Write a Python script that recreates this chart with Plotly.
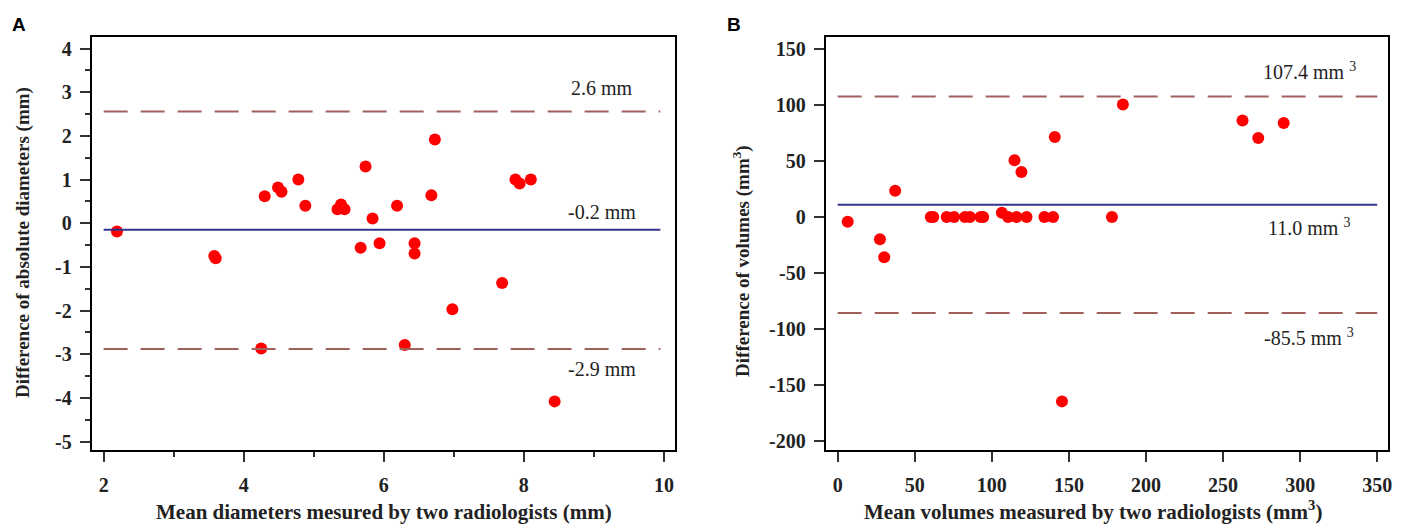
import plotly.graph_objects as go

# panel A: mean diameter vs difference (mm)
diam_mean = [2.19, 3.58, 3.60, 4.25, 4.30, 4.49, 4.54, 4.78, 4.88, 5.34, 5.39, 5.44,
             5.67, 5.74, 5.84, 5.94, 6.19, 6.30, 6.44, 6.44, 6.68, 6.73, 6.98, 7.69,
             7.88, 7.94, 8.10, 8.44]
diam_diff = [-0.19, -0.75, -0.80, -2.87, 0.62, 0.82, 0.72, 1.00, 0.40, 0.32, 0.43, 0.32,
             -0.56, 1.30, 0.11, -0.46, 0.40, -2.79, -0.46, -0.69, 0.64, 1.92, -1.97, -1.37,
             1.00, 0.91, 1.00, -4.08]
diam_lines = [2.56, -0.15, -2.88]
diam_labels = ["2.6 mm", "-0.2 mm", "-2.9 mm"]
diam_xticks = [2, 4, 6, 8, 10]
diam_yticks = [4, 3, 2, 1, 0, -1, -2, -3, -4, -5]

# panel B: mean volume vs difference (mm3)
vol_mean = [6.5, 27.4, 30.2, 37.3, 60.4, 62.0, 70.7, 75.5, 82.6, 85.8, 92.7, 94.4,
            106.5, 110.5, 114.7, 116.0, 119.2, 122.5, 134.1, 139.7, 140.8, 145.5,
            177.9, 185.0, 262.6, 272.8, 289.3]
vol_diff = [-4.2, -19.8, -35.8, 23.4, 0, 0, 0, 0, 0, 0, 0, 0,
            3.8, 0, 50.6, 0, 40.2, 0, 0, 0, 71.3, -164.4,
            0, 100.3, 86.0, 70.4, 83.7]
vol_lines = [107.4, 11.0, -85.5]
vol_labels = ["107.4 mm <sup>3</sup>", "11.0 mm <sup>3</sup>", "-85.5 mm <sup>3</sup>"]
vol_xticks = [0, 50, 100, 150, 200, 250, 300, 350]
vol_yticks = [150, 100, 50, 0, -50, -100, -150, -200]

RED = "#ff0000"
NAVY = "#34348f"
BROWN = "#a0605c"
SERIF = "Liberation Serif, Times New Roman, serif"
TXT = "#222"

fig = go.Figure()

fig.add_trace(go.Scatter(x=diam_mean, y=diam_diff, mode="markers",
                         marker=dict(color=RED, size=12), xaxis="x", yaxis="y",
                         showlegend=False))
fig.add_trace(go.Scatter(x=vol_mean, y=vol_diff, mode="markers",
                         marker=dict(color=RED, size=12), xaxis="x2", yaxis="y2",
                         showlegend=False))

# limit and mean lines
for i, v in enumerate(diam_lines):
    fig.add_shape(type="line", xref="x", yref="y", x0=2.0, x1=9.95, y0=v, y1=v,
                  line=dict(color=NAVY if i == 1 else BROWN, width=2,
                            dash="solid" if i == 1 else "24px,13px"))
for i, v in enumerate(vol_lines):
    fig.add_shape(type="line", xref="x2", yref="y2", x0=0, x1=350, y0=v, y1=v,
                  line=dict(color=NAVY if i == 1 else BROWN, width=2,
                            dash="solid" if i == 1 else "24px,13px"))

ann = []
for v, t, sh in zip(diam_lines, diam_labels, [24, 18, -20]):
    ann.append(dict(x=9.12, y=v, xref="x", yref="y", text=t, showarrow=False,
                    xanchor="center", yanchor="middle",
                    yshift=sh, font=dict(family=SERIF, size=20, color=TXT)))
for v, t, sh in zip(vol_lines, vol_labels, [26, -22, -24]):
    ann.append(dict(x=306, y=v, xref="x2", yref="y2", text=t, showarrow=False,
                    xanchor="center", yanchor="middle",
                    yshift=sh, font=dict(family=SERIF, size=20, color=TXT)))


def paper_text(px, py, text, size, angle=0, family=SERIF, color=TXT):
    return dict(x=px / 1411, y=1 - py / 525, xref="paper", yref="paper", text=text,
                showarrow=False, xanchor="center", yanchor="middle", textangle=angle,
                font=dict(family=family, size=size, color=color))


# panel letters and axis titles
ann += [
    paper_text(19, 25, "<b>A</b>", 19, family="Liberation Sans, Arial", color="black"),
    paper_text(736, 25, "<b>B</b>", 19, family="Liberation Sans, Arial", color="black"),
    paper_text(385, 514, "<b>Mean diameters mesured by two radiologists (mm)</b>", 21),
    paper_text(1096, 512, "<b>Mean volumes measured by two radiologists (mm<sup>3</sup>)</b>", 21),
    paper_text(23, 243, "<b>Difference of absolute diameters (mm)</b>", 19, angle=-90),
    paper_text(743, 262, "<b>Difference of volumes (mm<sup>3</sup>)</b>", 19, angle=-90),
]

axis_common = dict(showline=True, linecolor="black", linewidth=2, mirror=True,
                   ticks="outside", ticklen=10, tickwidth=2, tickcolor="#333",
                   showgrid=False, zeroline=False,
                   tickfont=dict(family=SERIF, size=20, color=TXT, weight="bold"))

fig.update_layout(
    width=1411, height=525,
    margin=dict(l=0, r=0, t=0, b=0),
    plot_bgcolor="white", paper_bgcolor="white",
    annotations=ann,
    xaxis=dict(domain=[92 / 1411, 677 / 1411], range=[1.83, 10.16],
               tickvals=diam_xticks, ticktext=[str(t) for t in diam_xticks],
               minor=dict(dtick=1, ticks="outside", ticklen=5, tickcolor="#333"),
               ticklabelstandoff=6, **axis_common),
    yaxis=dict(domain=[1 - 452 / 525, 1 - 37 / 525], range=[-5.2, 4.27],
               tickvals=diam_yticks, ticktext=[str(t) for t in diam_yticks],
               minor=dict(dtick=0.5, ticks="outside", ticklen=5, tickcolor="#333"),
               ticklabelstandoff=4, **axis_common),
    xaxis2=dict(domain=[828 / 1411, 1392 / 1411], range=[-7.8, 357],
                tickvals=vol_xticks, ticktext=[str(t) for t in vol_xticks],
                anchor="y2", ticklabelstandoff=6, **axis_common),
    yaxis2=dict(domain=[1 - 452 / 525, 1 - 37 / 525], range=[-208, 160.6],
                tickvals=vol_yticks, ticktext=[str(t) for t in vol_yticks],
                anchor="x2", ticklabelstandoff=4, **axis_common),
)

# drop the default page margin so the figure sits at the window's corner
fig.write_html("out.html", config={"displayModeBar": False},
               post_script="document.body.style.margin='0';")
